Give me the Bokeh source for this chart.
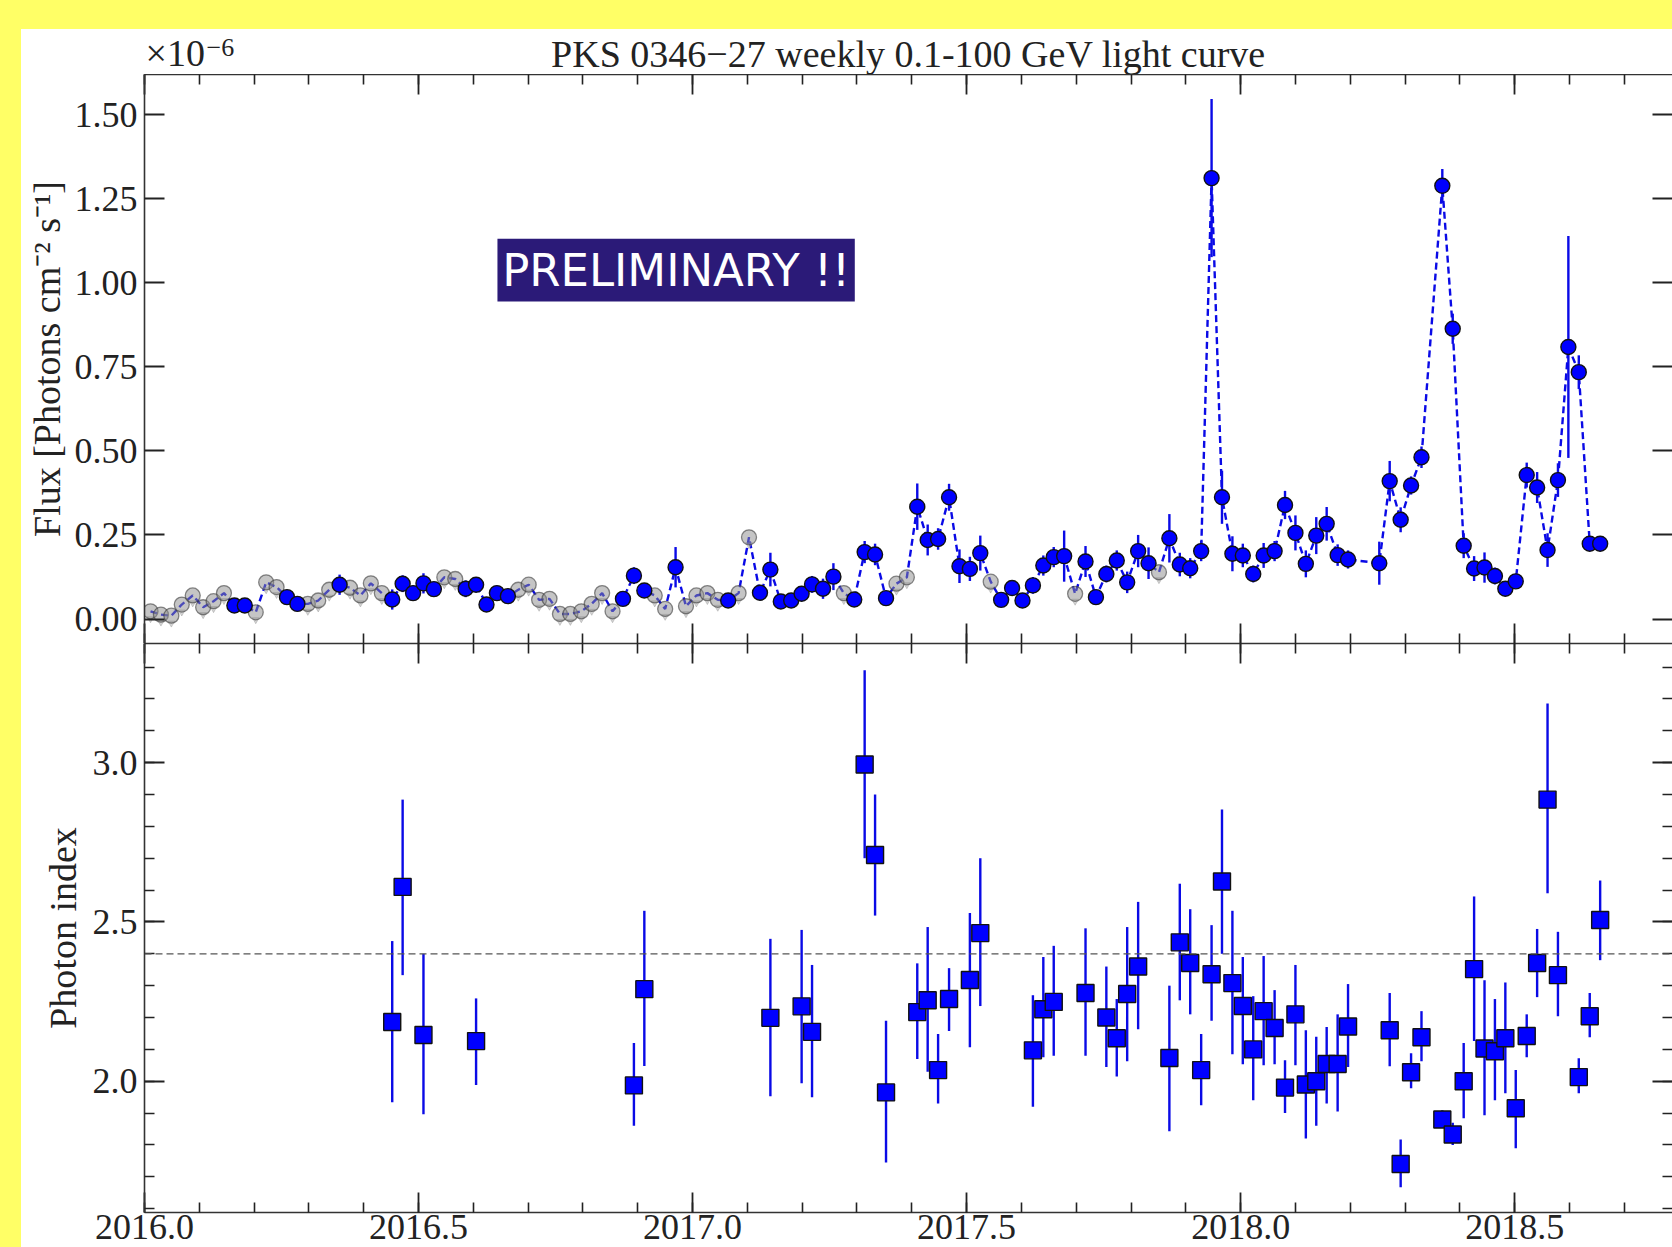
from bokeh.plotting import figure
from bokeh.models import (Range1d, LinearAxis, SingleIntervalTicker, NumeralTickFormatter,
                          Span, Label, BoxAnnotation, ColumnDataSource)
from bokeh.layouts import column
from bokeh.transform import dodge
from bokeh.embed import file_html
from bokeh.resources import INLINE

# ---------------- texts ----------------
title_text = "PKS 0346\u221227 weekly 0.1-100 GeV light curve"
flux_label = "Flux [Photons cm\u207b\u00b2 s\u207b\u00b9]"
index_label = "Photon index"
prelim_text = "PRELIMINARY !!"
scale_text = "\u00d710"
scale_exp = "\u22126"

# ---------------- ranges ----------------
x_start, x_end = 2016.0, 2018.788
flux_lo, flux_hi = -0.0728, 1.619
index_lo, index_hi = 1.588, 3.374
reference_index = 2.4

# ---------------- weekly flux (x 1e-6 ph cm-2 s-1) ----------------
flux_time = [
    2016.011, 2016.030, 2016.049, 2016.068, 2016.088, 2016.107, 2016.126, 2016.145, 2016.164, 2016.183,
    2016.203, 2016.222, 2016.241, 2016.260, 2016.279, 2016.298, 2016.317, 2016.337, 2016.356, 2016.375,
    2016.394, 2016.413, 2016.433, 2016.452, 2016.471, 2016.490, 2016.509, 2016.528, 2016.547, 2016.567,
    2016.586, 2016.605, 2016.624, 2016.643, 2016.663, 2016.682, 2016.701, 2016.720, 2016.739, 2016.758,
    2016.777, 2016.797, 2016.816, 2016.835, 2016.854, 2016.873, 2016.893, 2016.912, 2016.931, 2016.950,
    2016.969, 2016.988, 2017.007, 2017.027, 2017.046, 2017.065, 2017.084, 2017.103, 2017.123, 2017.142,
    2017.161, 2017.180, 2017.199, 2017.218, 2017.238, 2017.257, 2017.276, 2017.295, 2017.314, 2017.333,
    2017.353, 2017.372, 2017.391, 2017.410, 2017.429, 2017.448, 2017.468, 2017.487, 2017.506, 2017.525,
    2017.544, 2017.563, 2017.583, 2017.602, 2017.621, 2017.640, 2017.659, 2017.678, 2017.698, 2017.717,
    2017.736, 2017.755, 2017.774, 2017.793, 2017.813, 2017.832, 2017.851, 2017.870, 2017.889, 2017.908,
    2017.928, 2017.947, 2017.966, 2017.985, 2018.004, 2018.023, 2018.042, 2018.062, 2018.081, 2018.100,
    2018.119, 2018.138, 2018.157, 2018.177, 2018.196,
    2018.253, 2018.272, 2018.292, 2018.311, 2018.330,
    2018.368, 2018.387, 2018.407, 2018.426, 2018.445, 2018.464, 2018.483, 2018.502, 2018.522, 2018.541,
    2018.560, 2018.579, 2018.598, 2018.617, 2018.637, 2018.656,
]
flux_value = [
    0.023, 0.013, 0.010, 0.043, 0.070, 0.035, 0.053, 0.077, 0.040, 0.040,
    0.020, 0.109, 0.095, 0.065, 0.045, 0.045, 0.055, 0.087, 0.102, 0.093,
    0.070, 0.106, 0.077, 0.058, 0.105, 0.077, 0.106, 0.089, 0.124, 0.119,
    0.090, 0.102, 0.043, 0.077, 0.068, 0.087, 0.102, 0.057, 0.060, 0.015,
    0.015, 0.023, 0.045, 0.077, 0.023, 0.060, 0.129, 0.085, 0.070, 0.030,
    0.154, 0.038, 0.070, 0.077, 0.057, 0.055, 0.077, 0.243, 0.078, 0.147,
    0.052, 0.055, 0.075, 0.103, 0.090, 0.126, 0.077, 0.058, 0.199, 0.192,
    0.062, 0.105, 0.124, 0.334, 0.235, 0.238, 0.362, 0.157, 0.149, 0.196,
    0.111, 0.057, 0.092, 0.055, 0.100, 0.159, 0.184, 0.187, 0.075, 0.171,
    0.065, 0.134, 0.174, 0.109, 0.202, 0.166, 0.139, 0.240, 0.162, 0.151,
    0.202, 1.311, 0.362, 0.194, 0.189, 0.134, 0.189, 0.202, 0.339, 0.256,
    0.164, 0.248, 0.283, 0.190, 0.177,
    0.166, 0.410, 0.295, 0.397, 0.481,
    1.288, 0.863, 0.218, 0.150, 0.153, 0.128, 0.090, 0.112, 0.428, 0.391,
    0.205, 0.413, 0.809, 0.734, 0.224, 0.224,
]
flux_error = [
    0, 0, 0, 0, 0, 0, 0, 0, 0.015, 0.015,
    0, 0, 0, 0.020, 0.020, 0, 0, 0, 0.030, 0,
    0, 0, 0, 0.030, 0.025, 0.020, 0.030, 0.020, 0, 0,
    0.025, 0.020, 0.020, 0.020, 0.020, 0, 0, 0, 0, 0,
    0, 0, 0, 0, 0, 0.020, 0.025, 0.020, 0, 0,
    0.060, 0, 0, 0, 0, 0.020, 0, 0, 0.020, 0.050,
    0.020, 0.020, 0.020, 0.025, 0.030, 0.040, 0, 0.020, 0.033, 0.032,
    0.020, 0, 0, 0.069, 0.046, 0.032, 0.040, 0.050, 0.036, 0.052,
    0, 0.020, 0.020, 0.020, 0.025, 0.030, 0.030, 0.076, 0, 0.046,
    0.020, 0.025, 0.030, 0.032, 0.048, 0.047, 0, 0.072, 0.035, 0.030,
    0.030, 0.235, 0.079, 0.052, 0.035, 0.025, 0.037, 0.030, 0.042, 0.052,
    0.040, 0.055, 0.050, 0.032, 0.027,
    0.064, 0.060, 0.037, 0.027, 0.032,
    0.050, 0.045, 0.037, 0.037, 0.045, 0.025, 0.020, 0.020, 0.037, 0.046,
    0.050, 0.050, 0.330, 0.050, 0.020, 0.020,
]
# 1 = detection (blue), 0 = low significance / upper limit (grey)
flux_detected = [
    0, 0, 0, 0, 0, 0, 0, 0, 1, 1,
    0, 0, 0, 1, 1, 0, 0, 0, 1, 0,
    0, 0, 0, 1, 1, 1, 1, 1, 0, 0,
    1, 1, 1, 1, 1, 0, 0, 0, 0, 0,
    0, 0, 0, 0, 0, 1, 1, 1, 0, 0,
    1, 0, 0, 0, 0, 1, 0, 0, 1, 1,
    1, 1, 1, 1, 1, 1, 0, 1, 1, 1,
    1, 0, 0, 1, 1, 1, 1, 1, 1, 1,
    0, 1, 1, 1, 1, 1, 1, 1, 0, 1,
    1, 1, 1, 1, 1, 1, 0, 1, 1, 1,
    1, 1, 1, 1, 1, 1, 1, 1, 1, 1,
    1, 1, 1, 1, 1,
    1, 1, 1, 1, 1,
    1, 1, 1, 1, 1, 1, 1, 1, 1, 1,
    1, 1, 1, 1, 1, 1,
]

# ---------------- photon index ----------------
index_time = [
    2016.452, 2016.471, 2016.509, 2016.605, 2016.893, 2016.912, 2017.142, 2017.199, 2017.218, 2017.314,
    2017.333, 2017.353, 2017.410, 2017.429, 2017.448, 2017.468, 2017.506, 2017.525, 2017.621, 2017.640,
    2017.659, 2017.717, 2017.755, 2017.774, 2017.793, 2017.813, 2017.870, 2017.889, 2017.908, 2017.928,
    2017.947, 2017.966, 2017.985, 2018.004, 2018.023, 2018.042, 2018.062, 2018.081, 2018.100, 2018.119,
    2018.138, 2018.157, 2018.177, 2018.196, 2018.272, 2018.292, 2018.311, 2018.330, 2018.368, 2018.387,
    2018.407, 2018.426, 2018.445, 2018.464, 2018.483, 2018.502, 2018.522, 2018.541, 2018.560, 2018.579,
    2018.617, 2018.637, 2018.656,
]
index_value = [
    2.186, 2.610, 2.145, 2.126, 1.987, 2.289, 2.199, 2.235, 2.155, 2.994,
    2.710, 1.965, 2.217, 2.254, 2.035, 2.258, 2.318, 2.465, 2.097, 2.226,
    2.249, 2.277, 2.200, 2.135, 2.274, 2.360, 2.073, 2.436, 2.371, 2.035,
    2.336, 2.627, 2.308, 2.236, 2.100, 2.220, 2.167, 1.980, 2.210, 1.990,
    2.000, 2.054, 2.054, 2.172, 2.160, 1.740, 2.028, 2.138, 1.880, 1.833,
    2.000, 2.352, 2.103, 2.094, 2.135, 1.915, 2.142, 2.371, 2.884, 2.333,
    2.013, 2.204, 2.506,
]
index_lower = [
    1.934, 2.333, 1.896, 1.988, 1.860, 2.048, 1.953, 1.994, 1.950, 2.700,
    2.520, 1.745, 2.070, 2.030, 1.930, 2.158, 2.107, 2.236, 1.920, 2.075,
    2.080, 2.080, 2.045, 2.015, 2.063, 2.163, 1.843, 2.254, 2.210, 1.925,
    2.190, 2.400, 2.085, 2.053, 1.940, 2.050, 2.053, 1.900, 2.050, 1.820,
    1.860, 1.930, 1.905, 2.045, 2.047, 1.667, 1.978, 2.063, 1.859, 1.800,
    1.884, 2.126, 1.893, 1.940, 1.962, 1.790, 2.075, 2.264, 2.590, 2.204,
    1.962, 2.138, 2.380,
]
index_upper = [
    2.440, 2.884, 2.400, 2.260, 2.120, 2.535, 2.447, 2.475, 2.365, 3.290,
    2.900, 2.190, 2.370, 2.484, 2.148, 2.355, 2.528, 2.700, 2.270, 2.390,
    2.425, 2.480, 2.360, 2.258, 2.484, 2.563, 2.300, 2.620, 2.540, 2.148,
    2.490, 2.853, 2.535, 2.390, 2.267, 2.393, 2.286, 2.066, 2.365, 2.160,
    2.140, 2.170, 2.210, 2.305, 2.277, 1.817, 2.088, 2.220, 1.909, 1.870,
    2.120, 2.580, 2.317, 2.258, 2.310, 2.035, 2.210, 2.478, 3.186, 2.469,
    2.072, 2.277, 2.630,
]

# ---------------- styling ----------------
SERIF = "Liberation Serif"
SANS = "DejaVu Sans"
INK = "#222222"
BLUE_FILL = "#0000ff"
BLUE_LINE = "#0a0ae6"
YELLOW = "#FFFF66"
PRELIM_BG = "#2B1A78"


def style_axis(ax, labels=True, minor=True):
    ax.axis_line_color = "#333333"
    ax.axis_line_width = 1.6
    ax.major_tick_in = 20
    ax.major_tick_out = 0
    ax.minor_tick_in = 10
    ax.minor_tick_out = 0
    ax.major_tick_line_color = INK
    ax.major_tick_line_width = 1.8
    ax.minor_tick_line_color = INK if minor else None
    ax.minor_tick_line_width = 1.6
    ax.axis_label_text_font = SERIF
    ax.axis_label_text_font_style = "normal"
    ax.axis_label_text_font_size = "38px"
    ax.axis_label_text_color = INK
    if labels:
        ax.major_label_text_font = SERIF
        ax.major_label_text_font_size = "36px"
        ax.major_label_text_color = INK
    else:
        ax.major_label_text_font_size = "0px"
        ax.major_label_text_color = None
        ax.major_label_standoff = 0


def x_ticker():
    return SingleIntervalTicker(interval=0.5, num_minor_ticks=5)


def blank(fig):
    fig.outline_line_color = None
    fig.background_fill_color = "white"
    fig.border_fill_color = "white"
    for g in fig.xgrid + fig.ygrid:
        g.visible = False


# ================= header strip: title and scale factor =================
head = figure(width=1651, height=45, x_range=Range1d(x_start, x_end), y_range=Range1d(0, 45),
              output_backend="svg", toolbar_location=None, x_axis_location=None, y_axis_location=None,
              min_border_left=123, min_border_right=0, min_border_top=0, min_border_bottom=0)
blank(head)
head.add_layout(Label(x=(x_start + x_end) / 2, y=20.5, text=title_text, text_align="center",
                      text_baseline="middle", text_font=SERIF, text_font_size="38px", text_color=INK))
head.add_layout(Label(x=x_start, y=1, x_offset=1, text=scale_text, text_align="left",
                      text_baseline="bottom", text_font=SERIF, text_font_size="38px", text_color=INK))
head.add_layout(Label(x=x_start, y=27, x_offset=62, text=scale_exp, text_align="left",
                      text_baseline="middle", text_font=SERIF, text_font_size="26px", text_color=INK))

# ================= top panel: flux =================
p1 = figure(width=1651, height=569, x_range=head.x_range, y_range=Range1d(flux_lo, flux_hi),
            output_backend="svg", toolbar_location=None, x_axis_location=None, y_axis_location=None,
            min_border_left=123, min_border_right=0, min_border_top=0, min_border_bottom=0)
blank(p1)

ax = LinearAxis(ticker=SingleIntervalTicker(interval=0.25, num_minor_ticks=0),
                formatter=NumeralTickFormatter(format="0.00"), axis_label=flux_label)
style_axis(ax, labels=True, minor=False)
ax.major_label_standoff = 7
ax.axis_label_standoff = 4
p1.add_layout(ax, "left")

ax = LinearAxis(ticker=SingleIntervalTicker(interval=0.25, num_minor_ticks=0))
style_axis(ax, labels=False, minor=False)
ax.axis_line_color = None
p1.add_layout(ax, "right")

for side in ("below", "above"):
    ax = LinearAxis(ticker=x_ticker())
    style_axis(ax, labels=False, minor=True)
    p1.add_layout(ax, side)

src = ColumnDataSource(dict(t=flux_time, v=flux_value))
det = ColumnDataSource(dict(
    t=[t for t, d in zip(flux_time, flux_detected) if d],
    v=[v for v, d in zip(flux_value, flux_detected) if d],
    lo=[v - e for v, e, d in zip(flux_value, flux_error, flux_detected) if d],
    hi=[v + e for v, e, d in zip(flux_value, flux_error, flux_detected) if d],
))
ul = ColumnDataSource(dict(
    t=[t for t, d in zip(flux_time, flux_detected) if not d],
    v=[v for v, d in zip(flux_value, flux_detected) if not d],
))

p1.line("t", "v", source=src, line_color=BLUE_LINE, line_width=2.4, line_dash="7 4")
p1.segment(x0="t", y0="lo", x1="t", y1="hi", source=det, line_color=BLUE_LINE, line_width=2.4)
p1.scatter(x="t", y=dodge("v", -0.022, range=p1.y_range), source=ul, marker="inverted_triangle",
           size=7, fill_color="#a0a0a0", fill_alpha=0.45, line_color="#888888", line_alpha=0.35)
p1.scatter(x="t", y="v", source=ul, marker="circle", size=15,
           fill_color="#8c8c8c", fill_alpha=0.5, line_color="#3c3c3c", line_alpha=0.6, line_width=1.3)
p1.scatter(x="t", y="v", source=det, marker="circle", size=15,
           fill_color=BLUE_FILL, line_color="#111111", line_width=1.4)

# preliminary box
p1.add_layout(BoxAnnotation(left=2016.644, right=2017.296, bottom=0.944, top=1.131,
                            fill_color=PRELIM_BG, fill_alpha=1.0, line_color=None, level="annotation"))
p1.add_layout(Label(x=2016.970, y=1.0375, text=prelim_text, text_align="center", text_baseline="middle",
                    text_color="white", text_font=SANS, text_font_size="45px", level="overlay"))

# ================= bottom panel: photon index =================
p2 = figure(width=1651, height=604, x_range=head.x_range, y_range=Range1d(index_lo, index_hi),
            output_backend="svg", toolbar_location=None, x_axis_location=None, y_axis_location=None,
            min_border_left=123, min_border_right=0, min_border_top=0, min_border_bottom=35)
blank(p2)

ax = LinearAxis(ticker=SingleIntervalTicker(interval=0.5, num_minor_ticks=5),
                formatter=NumeralTickFormatter(format="0.0"), axis_label=index_label)
style_axis(ax, labels=True, minor=True)
ax.major_label_standoff = 7
ax.axis_label_standoff = 6
p2.add_layout(ax, "left")

ax = LinearAxis(ticker=SingleIntervalTicker(interval=0.5, num_minor_ticks=5))
style_axis(ax, labels=False, minor=True)
ax.axis_line_color = None
p2.add_layout(ax, "right")

ax = LinearAxis(ticker=x_ticker())
style_axis(ax, labels=False, minor=True)
p2.add_layout(ax, "above")

ax = LinearAxis(ticker=x_ticker(), formatter=NumeralTickFormatter(format="0.0"))
style_axis(ax, labels=True, minor=True)
ax.major_label_standoff = 2
p2.add_layout(ax, "below")

p2.add_layout(Span(location=reference_index, dimension="width", line_color="#555555",
                   line_width=1.3, line_dash="7 4"))

isrc = ColumnDataSource(dict(t=index_time, v=index_value, lo=index_lower, hi=index_upper))
p2.segment(x0="t", y0="lo", x1="t", y1="hi", source=isrc, line_color=BLUE_LINE, line_width=2.4)
p2.scatter(x="t", y="v", source=isrc, marker="square", size=17,
           fill_color=BLUE_FILL, line_color="#111111", line_width=1.4)

inner = column(head, p1, p2, spacing=0, styles={"background-color": "white"})
inner.margin = (29, 0, 0, 21)
layout = column(inner, spacing=0, styles={"background-color": YELLOW})

open("out.html", "w").write(file_html(layout, INLINE, title="PKS 0346-27 light curve"))
